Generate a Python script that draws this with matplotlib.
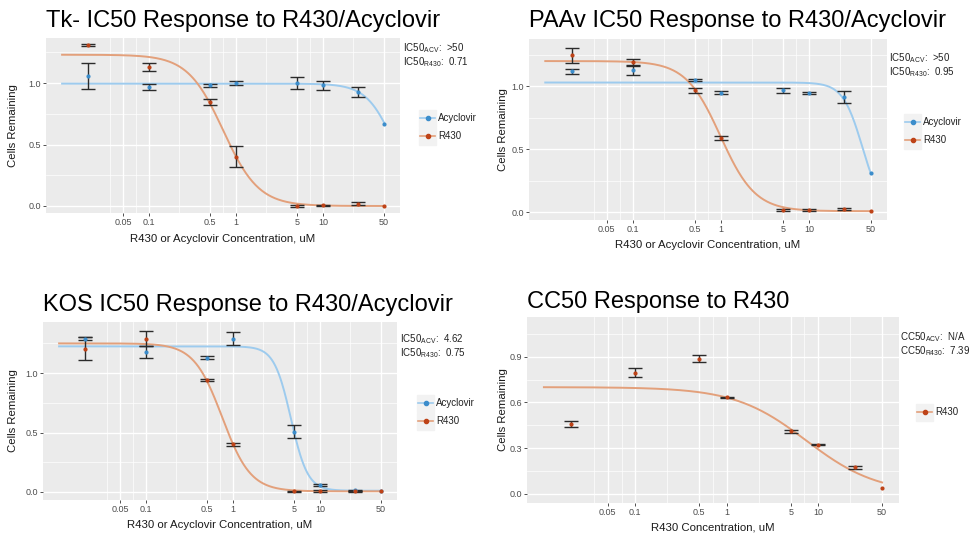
import numpy as np
import matplotlib
matplotlib.use("Agg")
import matplotlib.pyplot as plt
from matplotlib.lines import Line2D
from matplotlib.patches import Rectangle
from matplotlib.ticker import NullFormatter

plt.rcParams['font.family'] = ['Liberation Sans', 'DejaVu Sans']
plt.rcParams['mathtext.fontset'] = 'custom'
plt.rcParams['mathtext.rm'] = 'Liberation Sans'
plt.rcParams['mathtext.it'] = 'Liberation Sans'

W, H = 969, 533

# ---------------- data ----------------
conc = [0.02, 0.1, 0.5, 1, 5, 10, 25, 50]
x_breaks = [0.05, 0.1, 0.5, 1, 5, 10, 50]
x_labels = ['0.05', '0.1', '0.5', '1', '5', '10', '50']
nan = float('nan')

# Tk-
tk_acv = [1.055, 0.967, 0.98, 1.00, 1.00, 0.98, 0.925, 0.67]
tk_acv_err = [0.105, 0.025, 0.01, 0.015, 0.05, 0.04, 0.04, nan]
tk_r430 = [1.31, 1.13, 0.845, 0.40, 0.0, 0.005, 0.02, 0.0]
tk_r430_err = [0.01, 0.03, 0.025, 0.085, 0.006, 0.006, 0.01, nan]

# PAAv
paa_acv = [1.12, 1.13, 1.05, 0.95, 0.97, 0.95, 0.915, 0.31]
paa_acv_err = [0.02, 0.04, 0.01, 0.015, 0.02, 0.008, 0.05, nan]
paa_r430 = [1.245, 1.19, 0.97, 0.59, 0.02, 0.02, 0.03, 0.01]
paa_r430_err = [0.06, 0.03, 0.02, 0.015, 0.01, 0.006, 0.008, nan]

# KOS
kos_acv = [1.29, 1.175, 1.13, 1.29, 0.505, 0.056, 0.014, 0.01]
kos_acv_err = [0.012, 0.05, 0.015, 0.055, 0.055, 0.01, 0.005, nan]
kos_r430 = [1.205, 1.29, 0.94, 0.40, 0.005, 0.008, 0.005, 0.005]
kos_r430_err = [0.095, 0.065, 0.01, 0.01, 0.005, 0.005, 0.005, nan]

# CC50
cc_r430 = [0.461, 0.795, 0.887, 0.632, 0.41, 0.323, 0.173, 0.037]
cc_r430_err = [0.02, 0.03, 0.025, 0.006, 0.01, 0.005, 0.008, nan]

# four-parameter log-logistic fit parameters: (top, bottom, EC50, hill)
tk_acv_fit = (0.995, 0.0, 66.4, 2.72)
tk_r430_fit = (1.23, 0.0, 0.71, 2.13)
paa_acv_fit = (1.03, 0.0, 40.3, 3.89)
paa_r430_fit = (1.20, 0.01, 0.98, 2.2)
kos_acv_fit = (1.225, 0.01, 4.62, 4.5)
kos_r430_fit = (1.25, 0.005, 0.75, 2.66)
cc_r430_fit = (0.70, 0.0, 7.39, 1.11)
fit_range = (0.01, 50)

# ---------------- style ----------------
ACV_PT, ACV_LN = '#3C8DCB', '#9DCBEE'
R_PT, R_LN = '#BE4318', '#E3A07B'
PANEL = '#EBEBEB'

fig = plt.figure(figsize=(W / 100, H / 100), dpi=100)


def add_ax(l, t, r, b):
    return fig.add_axes([l / W, 1 - b / H, (r - l) / W, (b - t) / H])


def ll4(x, p):
    top, bottom, ec50, hill = p
    return bottom + (top - bottom) / (1 + (x / ec50) ** hill)


def style(ax, ylim, yticks):
    ax.set_facecolor(PANEL)
    for s in ax.spines.values():
        s.set_visible(False)
    ax.set_xscale('log')
    ax.set_xlim(10 ** -2.185, 10 ** 1.884)
    ax.set_ylim(*ylim)
    ax.set_xticks(x_breaks)
    ax.set_xticklabels(x_labels)
    lb = np.log10(x_breaks)
    ext = np.concatenate([[lb[0] - (lb[1] - lb[0])], lb, [lb[-1] + (lb[-1] - lb[-2])]])
    minor = 10 ** ((ext[:-1] + ext[1:]) / 2)
    minor = minor[minor < 10 ** 1.884]
    ax.set_xticks(minor, minor=True)
    ax.xaxis.set_minor_formatter(NullFormatter())
    ax.set_yticks(yticks)
    ax.set_yticklabels([f'{v:.1f}' for v in yticks])
    ys = np.array(yticks)
    ym = list((ys[:-1] + ys[1:]) / 2) + [ys[-1] + (ys[1] - ys[0]) / 2]
    ax.set_yticks(ym, minor=True)
    ax.yaxis.set_minor_formatter(NullFormatter())
    ax.grid(which='major', color='white', lw=1.0)
    ax.grid(which='minor', color='white', lw=0.5)
    ax.set_axisbelow(True)
    ax.tick_params(which='minor', length=0)
    ax.tick_params(which='major', length=2.2, width=0.6, color='#333333',
                   labelsize=6.5, labelcolor='#4D4D4D', pad=1.5)


def series(ax, y, err, fit, pt, ln):
    xs = np.geomspace(fit_range[0], fit_range[1], 400)
    ax.plot(xs, ll4(xs, fit), color=ln, lw=1.4, zorder=2)
    ax.errorbar(conc, y, yerr=err, fmt='none', ecolor='#2b2b2b', elinewidth=1.0,
                capsize=5.2, capthick=1.0, zorder=3)
    ax.scatter(conc, y, s=9, color=pt, zorder=4, linewidths=0)


def legend(x, y, items):
    for i, (lab, pt, ln) in enumerate(items):
        yy = y + i * 18
        fig.patches.append(Rectangle(((x - 1) / W, 1 - (yy + 8.5) / H), 17 / W, 17 / H,
                                     transform=fig.transFigure, color='#F2F2F2', zorder=1))
        fig.lines.append(Line2D([x / W, (x + 15) / W], [1 - yy / H, 1 - yy / H],
                                transform=fig.transFigure, color=ln, lw=1.2, zorder=2))
        fig.lines.append(Line2D([(x + 7.5) / W], [1 - yy / H], transform=fig.transFigure,
                                marker='o', ms=3, color=pt, mec=pt, zorder=3))
        fig.text((x + 18) / W, 1 - yy / H, lab, fontsize=7, va='center', ha='left', color='#222222')


def annot(x, y, l1, l2):
    fig.text(x / W, 1 - y / H, l1, fontsize=7, va='center', ha='left', color='#222222')
    fig.text(x / W, 1 - (y + 14) / H, l2, fontsize=7, va='center', ha='left', color='#222222')


def titles(l, r, t, b, title, title_y, xlabel, xlab_y, ylab_x):
    fig.text(l / W, 1 - title_y / H, title, fontsize=17, va='center', ha='left', color='black')
    fig.text((l + r) / 2 / W, 1 - xlab_y / H, xlabel, fontsize=8.2, va='center', ha='center', color='#1a1a1a')
    fig.text(ylab_x / W, 1 - (t + b) / 2 / H, 'Cells Remaining', fontsize=8.2, va='center', ha='center',
             rotation=90, color='#1a1a1a')


# ---- panel 1: Tk- ----
ax1 = add_ax(46, 38, 400, 213)
style(ax1, (-0.057, 1.366), [0.0, 0.5, 1.0])
series(ax1, tk_acv, tk_acv_err, tk_acv_fit, ACV_PT, ACV_LN)
series(ax1, tk_r430, tk_r430_err, tk_r430_fit, R_PT, R_LN)
titles(46, 400, 38, 213, 'Tk- IC50 Response to R430/Acyclovir', 21,
       'R430 or Acyclovir Concentration, uM', 239, 13)
annot(403, 48, r'IC50$_{\mathrm{ACV}}$:  >50', r'IC50$_{\mathrm{R430}}$:  0.71')
legend(420, 118, [('Acyclovir', ACV_PT, ACV_LN), ('R430', R_PT, R_LN)])

# ---- panel 2: PAAv ----
ax2 = add_ax(529, 39, 887, 220)
style(ax2, (-0.06, 1.375), [0.0, 0.5, 1.0])
series(ax2, paa_acv, paa_acv_err, paa_acv_fit, ACV_PT, ACV_LN)
series(ax2, paa_r430, paa_r430_err, paa_r430_fit, R_PT, R_LN)
titles(529, 887, 39, 220, 'PAAv IC50 Response to R430/Acyclovir', 21,
       'R430 or Acyclovir Concentration, uM', 245, 503)
annot(889, 58, r'IC50$_{\mathrm{ACV}}$:  >50', r'IC50$_{\mathrm{R430}}$:  0.95')
legend(905, 122, [('Acyclovir', ACV_PT, ACV_LN), ('R430', R_PT, R_LN)])

# ---- panel 3: KOS ----
ax3 = add_ax(43, 322, 397, 500)
style(ax3, (-0.068, 1.43), [0.0, 0.5, 1.0])
series(ax3, kos_acv, kos_acv_err, kos_acv_fit, ACV_PT, ACV_LN)
series(ax3, kos_r430, kos_r430_err, kos_r430_fit, R_PT, R_LN)
titles(43, 397, 322, 500, 'KOS IC50 Response to R430/Acyclovir', 305,
       'R430 or Acyclovir Concentration, uM', 525, 13)
annot(400, 339, r'IC50$_{\mathrm{ACV}}$:  4.62', r'IC50$_{\mathrm{R430}}$:  0.75')
legend(418, 403, [('Acyclovir', ACV_PT, ACV_LN), ('R430', R_PT, R_LN)])

# ---- panel 4: CC50 ----
ax4 = add_ax(527, 317, 899, 503)
style(ax4, (-0.06, 1.16), [0.0, 0.3, 0.6, 0.9])
series(ax4, cc_r430, cc_r430_err, cc_r430_fit, R_PT, R_LN)
titles(527, 899, 317, 503, 'CC50 Response to R430', 302,
       'R430 Concentration, uM', 527, 503)
annot(900, 337, r'CC50$_{\mathrm{ACV}}$:  N/A', r'CC50$_{\mathrm{R430}}$:  7.39')
legend(917, 412, [('R430', R_PT, R_LN)])

fig.savefig('out.png', dpi=100, facecolor='white')
